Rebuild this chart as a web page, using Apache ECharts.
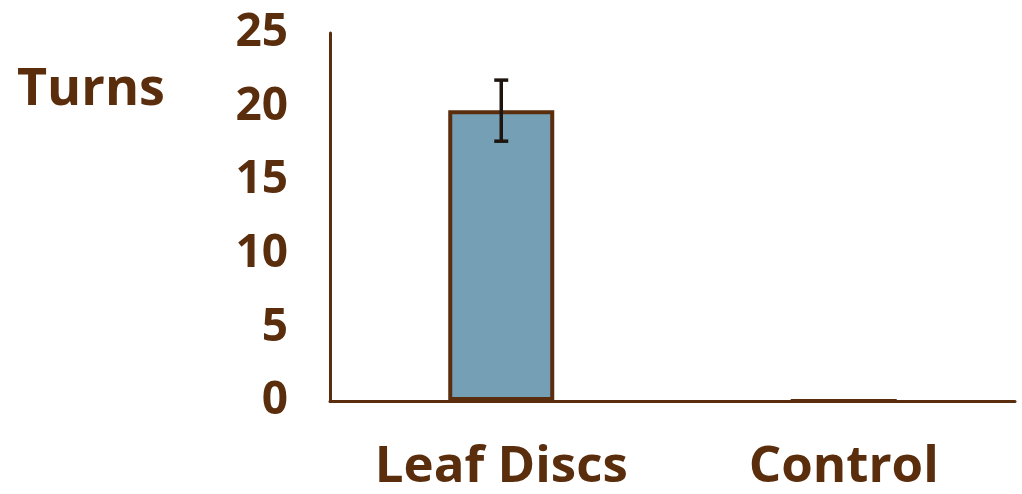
<!DOCTYPE html>
<html>
<head>
<meta charset="utf-8">
<script src="https://cdn.jsdelivr.net/npm/echarts@6/dist/echarts.min.js"></script>
<style>html,body{margin:0;padding:0;background:#fff}#c{width:1022px;height:494px}</style>
</head>
<body>
<div id="c"></div>
<script>
const categories = ['Leaf Discs', 'Control'];
const turns = [19.75, 0];
const errLow = [17.65, 0];
const errHigh = [21.8, 0];
const yTicks = [0, 5, 10, 15, 20, 25];

const BROWN = '#5a2d0c';
const FONT = 'Open Sans';
const chart = echarts.init(document.getElementById('c'));
chart.setOption({
  animation: false,
  title: {
    text: 'Turns', left: 12, top: 59,
    textStyle: { color: BROWN, fontFamily: FONT, fontWeight: 'bold', fontSize: 52 }
  },
  grid: { left: 330, right: 7, top: 33, bottom: 93 },
  xAxis: {
    type: 'category', data: categories,
    axisLine: { lineStyle: { color: BROWN, width: 3 } },
    axisTick: { show: false },
    axisLabel: { color: BROWN, fontFamily: FONT, fontWeight: 'bold', fontSize: 51, margin: 41 }
  },
  yAxis: {
    type: 'value', min: yTicks[0], max: yTicks[yTicks.length - 1], interval: 5,
    axisLine: { show: true, lineStyle: { color: BROWN, width: 3 } },
    axisTick: { show: false },
    splitLine: { show: false },
    axisLabel: { color: BROWN, fontFamily: FONT, fontWeight: 'bold', fontSize: 46, margin: 42 }
  },
  series: [
    {
      type: 'bar', data: turns, barWidth: 106,
      itemStyle: { color: '#759fb4', borderColor: BROWN, borderWidth: 4 }
    },
    {
      type: 'custom', z: 10,
      data: categories.map((c, i) => [i, errLow[i], errHigh[i]]).filter(d => d[2] > d[1]),
      renderItem: function (params, api) {
        const lo = api.coord([api.value(0), api.value(1)]);
        const hi = api.coord([api.value(0), api.value(2)]);
        const hw = 7;
        const st = { stroke: '#1e160e', lineWidth: 3.5 };
        return {
          type: 'group', children: [
            { type: 'line', shape: { x1: lo[0], y1: lo[1], x2: hi[0], y2: hi[1] }, style: st },
            { type: 'line', shape: { x1: lo[0] - hw, y1: lo[1], x2: lo[0] + hw, y2: lo[1] }, style: st },
            { type: 'line', shape: { x1: hi[0] - hw, y1: hi[1], x2: hi[0] + hw, y2: hi[1] }, style: st }
          ]
        };
      }
    }
  ]
});
</script>
</body>
</html>
